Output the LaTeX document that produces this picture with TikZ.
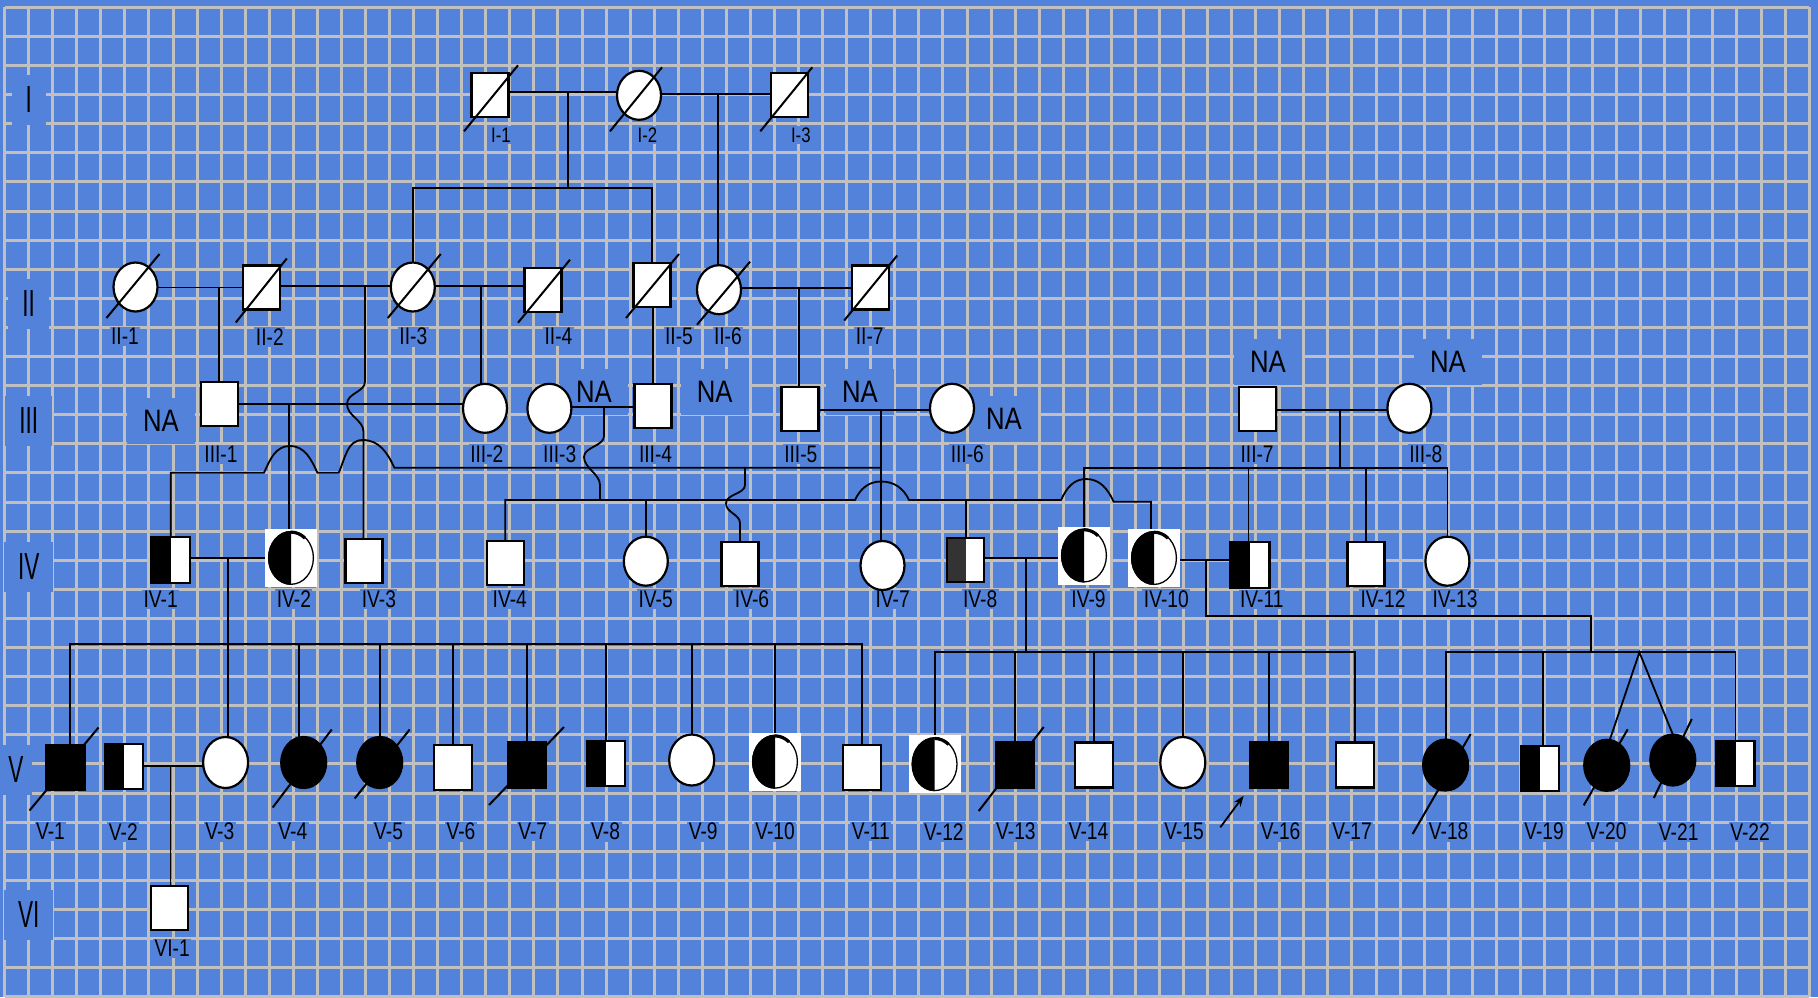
\documentclass[tikz,border=0pt]{standalone}
\usepackage{fontspec}
\setmainfont{Liberation Sans}
\newfontfamily\idf[FakeStretch=0.8]{Liberation Sans}
\newfontfamily\naf[FakeStretch=0.83]{Liberation Sans}
\newfontfamily\rowf[FakeStretch=0.6]{Liberation Sans}
\usetikzlibrary{calc,arrows.meta,shapes.geometric}
\definecolor{bgblue}{RGB}{83,130,218}
\definecolor{gridgray}{RGB}{192,192,192}
\definecolor{darkhalf}{RGB}{51,51,51}
\pgfdeclarelayer{back}
\pgfdeclarelayer{lines}
\pgfsetlayers{back,lines,main}
\newcommand\deadmark[5]{\draw[slashline] ($(#1.center)+(#2,#3)$) -- ($(#1.center)+(#4,#5)$);}
\tikzset{
  sym/.style={draw=black, line width=2.2pt, fill=white, inner sep=0pt, outer sep=0pt},
  male/.style={sym, rectangle, minimum width=37pt, minimum height=44pt},
  maleV/.style={sym, rectangle, minimum width=38pt, minimum height=45pt},
  female/.style={sym, ellipse, minimum width=44pt, minimum height=49pt},
  femaleV/.style={sym, ellipse, minimum width=45pt, minimum height=51pt},
  aff/.style={fill=black},
  halfblack/.style={path picture={\fill[black] (path picture bounding box.north west) rectangle (path picture bounding box.south);}},
  halfgrey/.style={path picture={\fill[darkhalf] (path picture bounding box.north west) rectangle (path picture bounding box.south);}},
  pix/.style={rectangle, fill=white, inner sep=0pt, outer sep=0pt, minimum width=52pt, minimum height=58pt,
    path picture={
      \begin{scope}
        \clip (path picture bounding box.north west) rectangle (path picture bounding box.south);
        \fill[black] (path picture bounding box.center) ellipse [x radius=23pt, y radius=27pt];
      \end{scope}
      \draw[black, line width=1.3pt] (path picture bounding box.center) ellipse [x radius=22.4pt, y radius=26.4pt];
      \draw[black, line width=3.2pt] ($(path picture bounding box.center)+(0pt,25.8pt)$) arc [start angle=90, end angle=50, x radius=21.8pt, y radius=25.8pt];
    }},
  con/.style={draw=black, line width=1.8pt},
  slashline/.style={draw=black, line width=2pt},
  gridline/.style={draw=gridgray, line width=3pt},
  idlab/.style={fill=bgblue, inner sep=1.5pt, font=\idf\fontsize{24}{25}\selectfont},
  idlabsmall/.style={fill=bgblue, inner sep=1.5pt, font=\idf\fontsize{21}{22}\selectfont},
  nalab/.style={fill=bgblue, inner xsep=16pt, inner ysep=12pt, font=\naf\fontsize{31}{32}\selectfont},
  rowlab/.style={fill=bgblue, inner xsep=14pt, inner ysep=12pt, font=\rowf\fontsize{37.7}{38}\selectfont},
}
\begin{document}
\begin{tikzpicture}[x=1pt,y=-1pt]
\useasboundingbox (0,0) rectangle (1818,997);

% ---------- individuals ----------
% generation I
\node[male] (I1) at (490,95.3) {};
\node[female] (I2) at (639,95.3) {};
\node[male] (I3) at (789.3,95.3) {};
% generation II
\node[female] (II1) at (135.5,287) {};
\node[male] (II2) at (261.8,287.5) {};
\node[female] (II3) at (412.8,287) {};
\node[male] (II4) at (543,289.7) {};
\node[male] (II5) at (652,285) {};
\node[female] (II6) at (719,289.7) {};
\node[male] (II7) at (870.2,287.5) {};
% generation III
\node[male] (III1) at (219.3,403.7) {};
\node[female] (III2) at (485,408.3) {};
\node[female] (III3) at (549.4,408.3) {};
\node[male] (III4) at (653,406) {};
\node[male] (III5) at (800,408.7) {};
\node[female] (III6) at (952,408.3) {};
\node[male] (III7) at (1257.4,408.7) {};
\node[female] (III8) at (1409.4,408.3) {};
% generation IV
\node[male, minimum width=39pt, minimum height=46pt, halfblack] (IV1) at (170.8,559.8) {};
\node[pix] (IV2) at (291,557.9) {};
\node[male] (IV3) at (364,560.8) {};
\node[male] (IV4) at (505.2,563.3) {};
\node[female] (IV5) at (645.8,561.2) {};
\node[male] (IV6) at (740,563.7) {};
\node[female] (IV7) at (882.5,565.5) {};
\node[male, halfgrey] (IV8) at (965.6,560) {};
\node[pix] (IV9) at (1084,555.5) {};
\node[pix] (IV10) at (1154,558) {};
\node[male, minimum width=39pt, minimum height=46pt, halfblack] (IV11) at (1250,564.7) {};
\node[male] (IV12) at (1366,563.7) {};
\node[female] (IV13) at (1447.4,561.2) {};
% generation V
\node[maleV, aff] (V1) at (65.5,767.5) {};
\node[maleV, halfblack] (V2) at (124,766.2) {};
\node[femaleV] (V3) at (225.6,762.5) {};
\node[femaleV, aff] (V4) at (303.7,762.5) {};
\node[femaleV, aff] (V5) at (379.7,762.5) {};
\node[maleV] (V6) at (452.6,767.3) {};
\node[maleV, aff] (V7) at (527,765) {};
\node[maleV, halfblack] (V8) at (605.6,763.7) {};
\node[femaleV] (V9) at (691.7,760) {};
\node[pix] (V10) at (775,761.7) {};
\node[maleV] (V11) at (862,767.7) {};
\node[pix] (V12) at (934.6,764.2) {};
\node[maleV, aff] (V13) at (1014.7,765) {};
\node[maleV] (V14) at (1094,765) {};
\node[femaleV] (V15) at (1182.8,762.5) {};
\node[maleV, aff] (V16) at (1268.9,765) {};
\node[maleV] (V17) at (1355.2,765) {};
\node[femaleV, aff] (V18) at (1445.6,765) {};
\node[maleV, halfblack] (V19) at (1540.3,768.7) {};
\node[femaleV, aff] (V20) at (1606.7,765.3) {};
\node[femaleV, aff] (V21) at (1672.8,760) {};
\node[maleV, halfblack] (V22) at (1735.5,763.7) {};
% generation VI
\node[male] (VI1) at (169.3,908) {};

% ---------- deceased marks ----------
\deadmark{I1}{-26}{36}{28}{-30}
\deadmark{I2}{-29}{36}{23}{-28}
\deadmark{I3}{-29}{36}{23}{-28}
\deadmark{II1}{-29}{31}{24}{-33}
\deadmark{II2}{-26}{35}{25}{-29}
\deadmark{II3}{-25}{31}{28}{-33}
\deadmark{II4}{-25}{33}{27}{-30}
\deadmark{II5}{-26}{33}{27}{-31}
\deadmark{II6}{-22}{35}{31}{-28}
\deadmark{II7}{-26}{33}{27}{-32}
\deadmark{V1}{-36}{43}{33}{-40}
\deadmark{V4}{-31}{45}{28}{-33}
\deadmark{V5}{-25}{36}{30}{-33}
\deadmark{V7}{-38}{40}{37}{-38}
\deadmark{V13}{-36}{46}{29}{-38}
\deadmark{V18}{-33}{69}{25}{-31}
\deadmark{V20}{-23}{40}{21}{-36}
\deadmark{V21}{-19}{38}{19}{-41}

% proband arrow
\coordinate (arrS) at ($(V16.center)+(-48.6,62.3)$);
\coordinate (arrE) at ($(V16.center)+(-25.2,30.7)$);
\draw[con, -{Stealth[length=11pt,width=8pt]}] (arrS) -- (arrE);

% ---------- background, grid, labels ----------
\begin{pgfonlayer}{back}
\fill[bgblue] (0,0) rectangle (1818,997);
\foreach \k in {0,...,75} \draw[gridline] ({4.6+24.06*\k},7.3) -- ({4.6+24.06*\k},997);
\foreach \k in {0,...,34} \draw[gridline] (4.6,{7.3+29.1*\k}) -- (1809.2,{7.3+29.1*\k});

% row labels
\node[rowlab] (rI) at (28.7,100) {I};
\node[rowlab] (rII) at (28.7,304) {II};
\node[rowlab] (rIII) at (28.7,421) {III};
\node[rowlab] (rIV) at (28.7,567) {IV};
\node[rowlab, inner xsep=8pt] (rV) at (16,770) {V};
\node[rowlab] (rVI) at (28.7,915) {VI};

% NA labels
\node[nalab] (na1) at (161,421) {NA};
\node[nalab] (na2) at (594,392) {NA};
\node[nalab] (na3) at (714.7,392) {NA};
\node[nalab] (na4) at (860,392) {NA};
\node[nalab] (na5) at (1004,419) {NA};
\node[nalab] (na6) at (1268,362) {NA};
\node[nalab] (na7) at (1448,362) {NA};

% id labels
\node[idlabsmall] (lI1) at (501,135) {I-1};
\node[idlabsmall] (lI2) at (647.5,135) {I-2};
\node[idlabsmall] (lI3) at (800.8,135) {I-3};
\node[idlab] (lII1) at (125,336.7) {II-1};
\node[idlab] (lII2) at (269.8,336.7) {II-2};
\node[idlab] (lII3) at (413.3,336.7) {II-3};
\node[idlab] (lII4) at (558.5,336.7) {II-4};
\node[idlab] (lII5) at (679,336.7) {II-5};
\node[idlab] (lII6) at (727.9,336.7) {II-6};
\node[idlab] (lII7) at (869.7,336.7) {II-7};
\node[idlab] (lIII1) at (221,454.3) {III-1};
\node[idlab] (lIII2) at (486.8,454.3) {III-2};
\node[idlab] (lIII3) at (559.7,454.3) {III-3};
\node[idlab] (lIII4) at (655.6,454.3) {III-4};
\node[idlab] (lIII5) at (800.8,454.3) {III-5};
\node[idlab] (lIII6) at (967.3,454.3) {III-6};
\node[idlab] (lIII7) at (1257.1,454.3) {III-7};
\node[idlab] (lIII8) at (1425.8,454.3) {III-8};
\node[idlab] (lIV1) at (160.7,599.3) {IV-1};
\node[idlab] (lIV2) at (293.9,599.3) {IV-2};
\node[idlab] (lIV3) at (378.9,599.3) {IV-3};
\node[idlab] (lIV4) at (509.8,599.3) {IV-4};
\node[idlab] (lIV5) at (655.6,599.3) {IV-5};
\node[idlab] (lIV6) at (752,599.3) {IV-6};
\node[idlab] (lIV7) at (892.7,599.3) {IV-7};
\node[idlab] (lIV8) at (980.2,599.3) {IV-8};
\node[idlab] (lIV9) at (1088.5,599.3) {IV-9};
\node[idlab] (lIV10) at (1166.4,599.3) {IV-10};
\node[idlab] (lIV11) at (1261.8,599.3) {IV-11};
\node[idlab] (lIV12) at (1383,599.3) {IV-12};
\node[idlab] (lIV13) at (1455,599.3) {IV-13};
\node[idlab] (lV1) at (50.5,831.7) {V-1};
\node[idlab] (lV2) at (123.4,831.7) {V-2};
\node[idlab] (lV3) at (219.9,831.7) {V-3};
\node[idlab] (lV4) at (292.8,831.7) {V-4};
\node[idlab] (lV5) at (388.6,831.7) {V-5};
\node[idlab] (lV6) at (461,831.7) {V-6};
\node[idlab] (lV7) at (532.7,831.7) {V-7};
\node[idlab] (lV8) at (605.6,831.7) {V-8};
\node[idlab] (lV9) at (703.2,831.7) {V-9};
\node[idlab] (lV10) at (775,831.7) {V-10};
\node[idlab] (lV11) at (870.8,831.7) {V-11};
\node[idlab] (lV12) at (943.9,831.7) {V-12};
\node[idlab] (lV13) at (1015.9,831.7) {V-13};
\node[idlab] (lV14) at (1088.5,831.7) {V-14};
\node[idlab] (lV15) at (1184,831.7) {V-15};
\node[idlab] (lV16) at (1280.6,831.7) {V-16};
\node[idlab] (lV17) at (1352,831.7) {V-17};
\node[idlab] (lV18) at (1448.6,831.7) {V-18};
\node[idlab] (lV19) at (1544,831.7) {V-19};
\node[idlab] (lV20) at (1606.7,831.7) {V-20};
\node[idlab] (lV21) at (1678.7,831.7) {V-21};
\node[idlab] (lV22) at (1750,831.7) {V-22};
\node[idlab] (lVI1) at (172.2,948.3) {VI-1};
\end{pgfonlayer}

% ---------- connectors ----------
\begin{pgfonlayer}{lines}
% I-1 x I-2
\coordinate (mI12) at (568.3,91.7);
\coordinate (sI12) at (568.3,188);
\draw[con] (I1.east |- mI12) -- (I2.west |- mI12);
\draw[con] (mI12) -- (sI12);
\draw[con] (II3.north) -- (II3.north |- sI12) -- (II5.north |- sI12) -- (II5.north);
% I-2 x I-3
\coordinate (mI23) at (717.6,94.3);
\draw[con] (I2.east |- mI23) -- (I3.west |- mI23);
\draw[con] (mI23) -- (mI23 |- II6.north);
% II-1 x II-2
\coordinate (mII12) at (218.7,287.5);
\draw[con] (II1.east |- mII12) -- (II2.west |- mII12);
\draw[con] (mII12) -- (mII12 |- III1.north);
% II-2 x II-3
\coordinate (mII23) at (365,285.7);
\draw[con] (II2.east |- mII23) -- (II3.west |- mII23);
\draw[con] (mII23) -- (365,381.7) .. controls (365,392) and (347,393) .. (347,404)
  .. controls (347,416) and (363.5,420) .. (363.5,431.7) -- (IV3.north -| 363.5,0);
% II-3 x II-4
\coordinate (mII34) at (481,286);
\draw[con] (II3.east |- mII34) -- (II4.west |- mII34);
\draw[con] (mII34) -- (mII34 |- III2.north);
% II-5 -> III-4
\draw[con] (III4.north |- II5.south) -- (III4.north);
% II-6 x II-7
\coordinate (mII67) at (799,288.3);
\draw[con] (II6.east |- mII67) -- (II7.west |- mII67);
\draw[con] (mII67) -- (mII67 |- III5.north);

% III-1 x III-2
\coordinate (mIII12) at (288.7,404.3);
\draw[con] (III1.east |- mIII12) -- (III2.west |- mIII12);
\draw[con] (mIII12) -- (mIII12 |- IV2.north);
% III-3 x III-4
\coordinate (mIII34) at (604,407.3);
\coordinate (sIII34) at (600,500);
\draw[con] (III3.east |- mIII34) -- (III4.west |- mIII34);
\draw[con] (mIII34) -- (604,436) .. controls (604,446) and (584,447) .. (584,457)
  .. controls (584,468) and (600,474) .. (600,485) -- (sIII34);
\draw[con] (IV4.north) -- (IV4.north |- sIII34) -- (855,500)
  to[out=65,in=180] (881,481.5) to[out=0,in=115] (909,500) -- (1061,500)
  to[out=65,in=180] (1086,479) to[out=0,in=115] (1113.7,501.7) -- (1151,501.7)
  -- ($(IV10.north)+(-3,0)$);
\draw[con] (IV5.north |- sIII34) -- (IV5.north);
\draw[con] (IV8.north |- sIII34) -- (IV8.north);
% III-5 x III-6
\coordinate (mIII56) at (881.1,410);
\coordinate (sIII56) at (881.1,467.7);
\coordinate (lvlA) at (0,472.7);
\coordinate (dIV6) at (745,467.7);
\draw[con] (III5.east |- mIII56) -- (III6.west |- mIII56);
\draw[con] (mIII56) -- (mIII56 |- IV7.north);
\draw[con] (sIII56) -- (394.4,467.7) to[out=115,in=0] (362.8,440) to[out=180,in=65] (338.7,472.7)
  -- (317.4,472.7) to[out=115,in=0] (289.9,446) to[out=180,in=65] (264,472.7)
  -- (IV1.north |- lvlA) -- (IV1.north);
\draw[con] (dIV6) -- (745,485) .. controls (745,494) and (726,494) .. (726,503.3)
  .. controls (726,513) and (740,514) .. (740,523.3) -- (IV6.north);
% III-7 x III-8
\coordinate (mIII78) at (1340.3,410);
\coordinate (sIII78) at (1340.3,467.7);
\draw[con] (III7.east |- mIII78) -- (III8.west |- mIII78);
\draw[con] (mIII78) -- (sIII78);
\draw[con] (IV9.north) -- (IV9.north |- sIII78) -- (IV13.north |- sIII78) -- (IV13.north);
\draw[con] ($(IV11.north |- sIII78)+(-1.6,0)$) -- ($(IV11.north)+(-1.6,0)$);
\draw[con] (IV12.north |- sIII78) -- (IV12.north);

% IV-1 x IV-2
\coordinate (mIV12) at (227.9,557.7);
\coordinate (sIV12) at (227.9,644.3);
\draw[con] (IV1.east |- mIV12) -- (IV2.west |- mIV12);
\draw[con] (mIV12) -- (mIV12 |- V3.north);
\draw[con] ($(V1.north)+(4.5,0)$) -- ($(V1.north |- sIV12)+(4.5,0)$) -- (V11.north |- sIV12) -- (V11.north);
\draw[con] ($(V4.north |- sIV12)+(-5,0)$) -- ($(V4.north)+(-5,0.6)$);
\foreach \n in {V5,V6,V7,V8,V9,V10} \draw[con] (\n.north |- sIV12) -- (\n.north);
% IV-8 x IV-9
\coordinate (mIV89) at (1025.9,557.7);
\coordinate (sIV89) at (1025.9,652.3);
\draw[con] (IV8.east |- mIV89) -- (IV9.west |- mIV89);
\draw[con] (mIV89) -- (sIV89);
\draw[con] (V12.north) -- (V12.north |- sIV89) -- (V17.north |- sIV89) -- (V17.north);
\foreach \n in {V13,V14,V15,V16} \draw[con] (\n.north |- sIV89) -- (\n.north);
% IV-10 x IV-11
\coordinate (mIV1011) at (1205.6,560);
\coordinate (kIV1011) at (1205.6,616);
\coordinate (sIV1011) at (1590.9,652.3);
\coordinate (tw) at (1639.4,652.3);
\draw[con] (IV10.east |- mIV1011) -- (IV11.west |- mIV1011);
\draw[con] (mIV1011) -- (kIV1011) -- (kIV1011 -| sIV1011) -- (sIV1011);
\draw[con] (V18.north) -- (V18.north |- sIV1011) -- (V22.north |- sIV1011) -- (V22.north);
\draw[con] ($(V19.north |- sIV1011)+(2.6,0)$) -- ($(V19.north)+(2.6,0)$);
\draw[con] ($(V20.north)+(3,0.3)$) -- (tw) -- (V21.north);
% V-2 x V-3
\coordinate (mV23) at (170.5,766);
\draw[con] (V2.east |- mV23) -- (V3.west |- mV23);
\draw[con] (mV23) -- (mV23 |- VI1.north);
\end{pgfonlayer}
\end{tikzpicture}
\end{document}
